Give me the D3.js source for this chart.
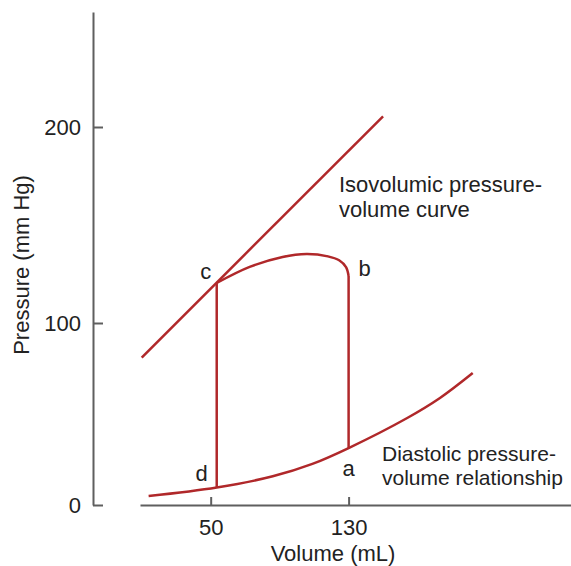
<!DOCTYPE html>
<html><head><meta charset="utf-8">
<script src="https://cdn.jsdelivr.net/npm/d3@7"></script>
<style>
html,body{margin:0;padding:0;background:#fff;}
svg{display:block;}
text{font-family:"Liberation Sans",Arial,Helvetica,sans-serif;fill:#222;}
</style></head>
<body>
<svg id="chart" width="571" height="566"></svg>
<script>
// Data (volume in mL, pressure in mm Hg)
const xTicks = [50, 130];
const yTicks = [0, 100, 200];
const yTickLabels = ["0", "100", "200"];

// Isovolumic pressure-volume curve (straight line)
const isoVol = [10, 150];
const isoPres = [81, 205.5];

// Diastolic pressure-volume relationship
const diaVol = [14, 53.5, 86, 109, 130, 164, 183, 202];
const diaPres = [4.9, 9.6, 15.8, 22.6, 31.3, 47.8, 58.8, 72.5];

// Ejection (top of loop c -> b)
const ejVol = [53.5, 72.6, 91.7, 105.7, 118, 124.5, 128.5, 130];
const ejPres = [120.4, 128.6, 133.7, 135.2, 134, 132, 128.5, 124];

// Loop corner points
const pointNames = ["a", "b", "c", "d"];
const pointVol = [130, 130, 53.5, 53.5];
const pointPres = [31.3, 124, 120.4, 9.6];

const svg = d3.select("#chart");
const x = d3.scaleLinear().domain([9, 259]).range([140, 571]);
const y = d3.scaleLinear().domain([0, 100, 200, 259]).range([505, 323, 127, 12]);

const axisColor = "#5f5f5f";
const red = "#b0282a";
const fs = 22;

// Y axis
const gy = svg.append("g").attr("transform", "translate(93,0)")
  .call(d3.axisLeft(y).tickValues(yTicks).tickFormat((d,i)=>yTickLabels[i])
        .tickSize(-10).tickSizeOuter(0).tickPadding(12));
gy.selectAll("path,line").attr("stroke", axisColor).attr("stroke-width", 2);
gy.selectAll("text").attr("font-size", fs).attr("fill", "#222")
  .style("font-family", '"Liberation Sans",Arial,sans-serif');

// X axis
const gx = svg.append("g").attr("transform", "translate(0,505)")
  .call(d3.axisBottom(x).tickValues(xTicks).tickSize(-8).tickSizeOuter(0).tickPadding(14));
gx.selectAll("path,line").attr("stroke", axisColor).attr("stroke-width", 2);
gx.selectAll("text").attr("font-size", fs).attr("fill", "#222")
  .style("font-family", '"Liberation Sans",Arial,sans-serif');

// Axis titles
svg.append("text").attr("x", 333).attr("y", 561).attr("text-anchor", "middle")
  .attr("font-size", fs).text("Volume (mL)");
svg.append("text").attr("transform", "translate(29,265) rotate(-90)")
  .attr("text-anchor", "middle").attr("font-size", fs).text("Pressure (mm Hg)");

// Isovolumic line
svg.append("path").datum(d3.zip(isoVol, isoPres))
  .attr("d", d3.line().x(d => x(d[0])).y(d => y(d[1])))
  .attr("fill", "none").attr("stroke", red).attr("stroke-width", 2.5);

// Diastolic curve
svg.append("path").datum(d3.zip(diaVol, diaPres))
  .attr("d", d3.line().x(d => x(d[0])).y(d => y(d[1])).curve(d3.curveCatmullRom.alpha(0.5)))
  .attr("fill", "none").attr("stroke", red).attr("stroke-width", 2.5);

// Ejection curve
svg.append("path").datum(d3.zip(ejVol, ejPres))
  .attr("d", d3.line().x(d => x(d[0])).y(d => y(d[1])).curve(d3.curveCatmullRom.alpha(0.5)))
  .attr("fill", "none").attr("stroke", red).attr("stroke-width", 2.5);

// Verticals d->c and b->a
const straight = d3.line().x(d => x(d[0])).y(d => y(d[1]));
svg.append("path").datum([[pointVol[3], pointPres[3]], [pointVol[2], pointPres[2]]])
  .attr("d", straight).attr("fill", "none").attr("stroke", red).attr("stroke-width", 2.5);
svg.append("path").datum([[pointVol[1], pointPres[1]], [pointVol[0], pointPres[0]]])
  .attr("d", straight).attr("fill", "none").attr("stroke", red).attr("stroke-width", 2.5);

// Point labels
const labelOffsets = {a: [0, 22], b: [16, -6], c: [-11, -10], d: [-15, -12]};
pointNames.forEach((n, i) => {
  svg.append("text")
    .attr("x", x(pointVol[i]) + labelOffsets[n][0])
    .attr("y", y(pointPres[i]) + labelOffsets[n][1])
    .attr("text-anchor", "middle").attr("dominant-baseline", "middle")
    .attr("font-size", fs).text(n);
});

// Curve annotations
const ann1 = svg.append("text").attr("font-size", fs);
ann1.append("tspan").attr("x", 339).attr("y", 192).text("Isovolumic pressure-");
ann1.append("tspan").attr("x", 339).attr("y", 217).text("volume curve");
const ann2 = svg.append("text").attr("font-size", 21);
ann2.append("tspan").attr("x", 382).attr("y", 461).text("Diastolic pressure-");
ann2.append("tspan").attr("x", 382).attr("y", 485).text("volume relationship");
</script>
</body></html>
